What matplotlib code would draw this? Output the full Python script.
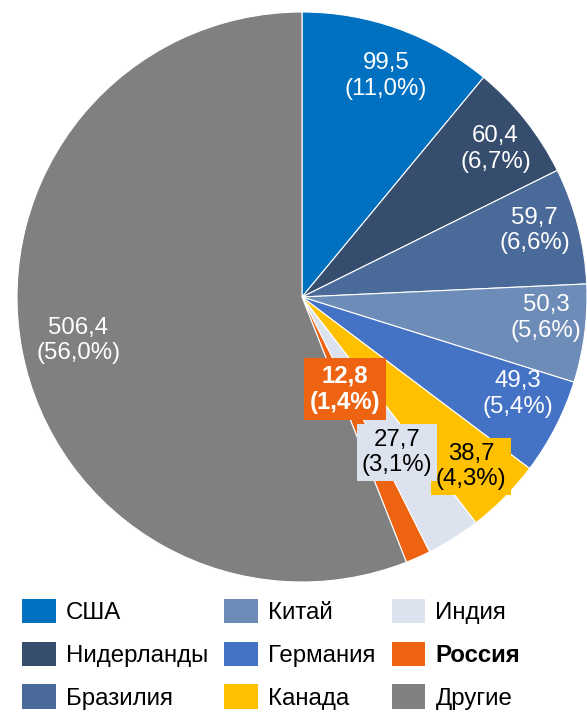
import matplotlib
matplotlib.use("Agg")
import matplotlib.pyplot as plt
import numpy as np

plt.rcParams['font.family'] = ['Liberation Sans', 'DejaVu Sans']

categories = ["США", "Нидерланды", "Бразилия", "Китай", "Германия", "Канада", "Индия", "Россия", "Другие"]
values = [99.5, 60.4, 59.7, 50.3, 49.3, 38.7, 27.7, 12.8, 506.4]
shares = [11.0, 6.7, 6.6, 5.6, 5.4, 4.3, 3.1, 1.4, 56.0]
colors = ["#0070C0", "#374D6E", "#4A6A9A", "#6E8CB8", "#4472C4", "#FFC000", "#DDE3EE", "#EE6311", "#808080"]
text_colors = ["white", "white", "white", "white", "white", "black", "black", "white", "white"]
label_r = [0.83, 0.855, 0.85, 0.86, 0.83, 0.84, 0.64, 0.356, 0.80]
label_dang = [-1.0, -1.0, 1.5, 2.5, 3.0, -0.3, -0.6, 1.0, 0.3]
boxed = [False, False, False, False, False, True, True, True, False]
bold = [False, False, False, False, False, False, False, True, False]

fig = plt.figure(figsize=(5.87, 7.13), dpi=100)
ax = fig.add_axes([17/587, 1 - (297 + 285)/713, 570/587, 570/713])
wedges, _ = ax.pie(values, colors=colors, startangle=90, counterclock=False,
                   radius=1.0, wedgeprops=dict(edgecolor='white', linewidth=0.8))
ax.set_xlim(-1, 1)
ax.set_ylim(-1, 1)
ax.set_aspect('equal')
ax.axis('off')

for i, w in enumerate(wedges):
    mid = np.deg2rad((w.theta1 + w.theta2) / 2 + label_dang[i])
    x, y = label_r[i] * np.cos(mid), label_r[i] * np.sin(mid)
    txt = f"{values[i]:.1f}".replace('.', ',') + "\n(" + f"{shares[i]:.1f}".replace('.', ',') + "%)"
    kw = {}
    if boxed[i]:
        pad = 0.25 if bold[i] else 0.2
        kw['bbox'] = dict(boxstyle=f'square,pad={pad}', facecolor=colors[i], edgecolor='none')
    ax.text(x, y, txt, ha='center', va='center', fontsize=17.3, color=text_colors[i],
            fontweight='bold' if bold[i] else 'normal', linespacing=1.2, **kw)

leg = fig.legend(wedges, categories, ncol=3, loc='upper left',
                 bbox_to_anchor=(22/587, 1 - 599/713), frameon=False, fontsize=17.3,
                 handlelength=1.4, handleheight=1.19, handletextpad=0.42,
                 columnspacing=0.68, labelspacing=0.72, borderpad=0, borderaxespad=0)
for p in leg.get_patches():
    p.set_edgecolor('none')
leg.get_texts()[7].set_fontweight('bold')

fig.savefig("out.png", dpi=100)
